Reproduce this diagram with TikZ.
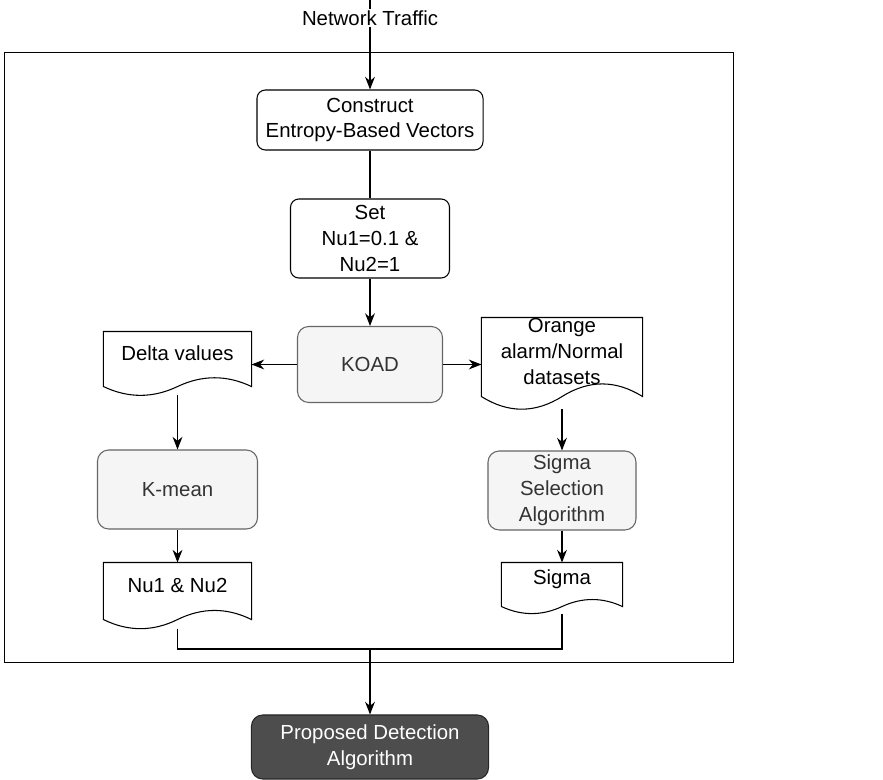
\documentclass[tikz,border=0pt]{standalone}
\usepackage{fontspec}
\setmainfont{Liberation Sans}
\usepackage{xcolor}
\usetikzlibrary{arrows.meta, positioning, calc}
\definecolor{boxgray}{HTML}{F5F5F5}
\definecolor{edgegray}{HTML}{666666}
\definecolor{textgray}{HTML}{333333}
\definecolor{darkgray}{HTML}{4D4D4D}

% document outline with wavy bottom (set a little below the text),
% plus top and foot coordinates
\newcommand{\docoutline}[1]{%
  \draw[docline] let \p1=([yshift=-4pt]#1.south west), \p2=([yshift=-4pt]#1.north east),
      \n1={\x2-\x1}, \n2={\y2-\y1} in
    (\x1,\y1) -- (\x1,\y2) -- (\x2,\y2) -- (\x2,\y1)
    .. controls ({\x1+0.8333*\n1},{\y1+0.213*\n2}) and ({\x1+0.6667*\n1},{\y1+0.213*\n2}) .. ({\x1+0.5*\n1},\y1)
    .. controls ({\x1+0.3333*\n1},{\y1-0.213*\n2}) and ({\x1+0.1667*\n1},{\y1-0.213*\n2}) .. cycle
    ({\x1+0.5*\n1},{\y1-0.16*\n2}) coordinate (#1-foot)
    ({\x1+0.5*\n1},\y2) coordinate (#1-top);
}

\begin{document}
\begin{tikzpicture}[
    x=0.025cm, y=-0.025cm,
    font=\fontsize{14.5}{18.4}\selectfont,
    line width=0.75pt,
    wbox/.style={rectangle, draw=black, rounded corners=6pt, fill=white,
                 align=center, inner sep=2pt},
    gbox/.style={rectangle, draw=edgegray, rounded corners=8pt, fill=boxgray,
                 text=textgray, align=center, inner sep=2pt},
    kbox/.style={rectangle, draw=black!85, rounded corners=8pt, fill=darkgray,
                 text=white, align=center, inner sep=2pt},
    doc/.style={rectangle, draw=none, align=center, inner sep=2pt},
    docline/.style={draw=black, line width=0.75pt},
    frame/.style={rectangle, draw=black, line width=0.8pt, inner sep=0pt,
                  minimum width=18.2cm, minimum height=15.225cm},
    a/.style={-{Stealth[length=9pt, width=7pt]}},
]
\useasboundingbox (0,0) rectangle (883,780);

%% outer frame
\node[frame] (frm) at (369, 357.5) {};

%% nodes
\coordinate (src) at (370, -5);

\node[wbox, minimum width=5.65cm, minimum height=1.5cm] (cons) at (370, 120)
    {Construct\\Entropy-Based Vectors};
\node[wbox, minimum width=3.975cm, minimum height=1.975cm] (set) at (370, 238.5)
    {Set\\Nu1=0.1 \&\\Nu2=1};
\node[gbox, minimum width=3.625cm, minimum height=1.9cm] (koad) at (370, 364.5)
    {KOAD};

\node[doc, minimum width=3.675cm, minimum height=1.35cm] (delta) at (177.5, 353.4)
    {Delta values};
\docoutline{delta}
\node[doc, minimum width=4.0cm, minimum height=1.95cm] (orange) at (562, 351.4)
    {Orange\\alarm/Normal\\datasets};
\docoutline{orange}

\node[gbox, minimum width=4.0cm, minimum height=1.975cm] (kmean) at (177.5, 489.5)
    {K-mean};
\node[gbox, minimum width=3.7cm, minimum height=1.975cm] (sigsel) at (562, 490.5)
    {Sigma\\Selection\\Algorithm};

\node[doc, minimum width=3.675cm, minimum height=1.4cm] (nu) at (177.5, 585.4)
    {Nu1 \& Nu2};
\docoutline{nu}
\node[doc, minimum width=3.0cm, minimum height=1.075cm] (sigma) at (562, 578.9)
    {Sigma};
\docoutline{sigma}

\node[kbox, minimum width=5.925cm, minimum height=1.6cm] (prop) at (370, 747)
    {Proposed Detection\\Algorithm};

%% connectors
\draw[a] (src) -- (cons.north);
\node[fill=white, inner sep=1pt] (traffic) at (370, 18) {Network Traffic};
\draw (cons.south) -- (set.north);
\draw[a] (set.south) -- (koad.north);
\draw[a] (koad.west) -- (koad.west -| delta.east);
\draw[a] (koad.east) -- (koad.east -| orange.west);
\draw[a] (delta-foot) -- (kmean.north);
\draw[a] (orange-foot) -- (sigsel.north);
\draw[a] (kmean.south) -- (nu-top);
\draw[a] (sigsel.south) -- (sigma-top);

% merge into the detection step
\coordinate (join) at (370, 649);
\draw (nu-foot) |- (join) -| (sigma-foot);
\draw[a] (join) -- (prop.north);

\end{tikzpicture}
\end{document}
